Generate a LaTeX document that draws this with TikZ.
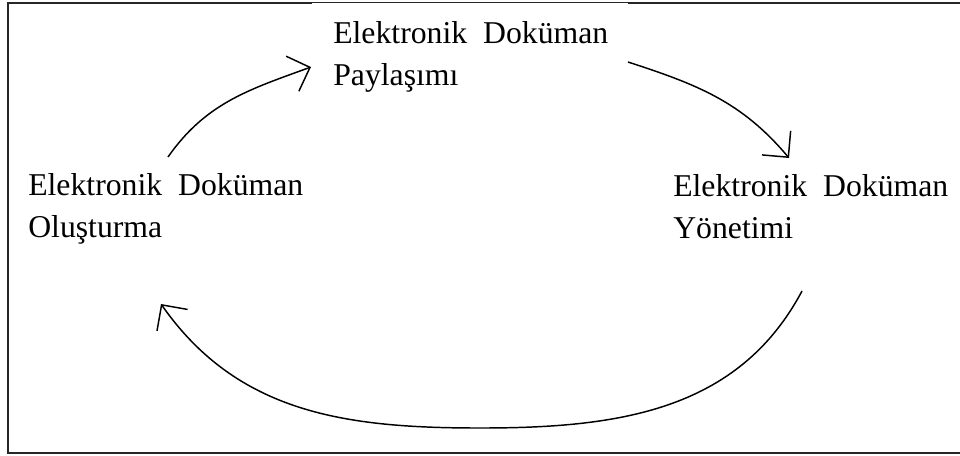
\documentclass[tikz,border=0pt]{standalone}
\usepackage{fontspec}
\setmainfont{Liberation Serif}
\usetikzlibrary{arrows.meta}
\begin{document}
\begin{tikzpicture}[x=0.75pt,y=-0.75pt,
  lbl/.style={align=left, inner sep=0pt, anchor=base west,
    font=\fontsize{23.8pt}{31.5pt}\selectfont},
  cyclearrow/.style={line width=1.1pt,
    -{Straight Barb[length=14pt,width=28pt,line width=1.1pt]}}]
\useasboundingbox (0,0) rectangle (960,455);
% outer frame (its right side lies past the page edge)
\draw[line width=1.5pt, draw=black!85] (975,2.5) -- (8,2.5) -- (8,452.7) -- (975,452.7);
% the title box of the top label covers part of the frame
\fill[white] (312,2.6) rectangle (628,14);
% the three stages (placed by the baseline of their last line)
\node[lbl] (share)  at (333,85)  {Elektronik\ \ Doküman\\Paylaşımı};
\node[lbl] (create) at (28,237)  {Elektronik\ \ Doküman\\Oluşturma};
\node[lbl] (manage) at (673,238) {Elektronik\ \ Doküman\\Yönetimi};
% end points of the arrows
\coordinate (a1s) at ([shift={(140,-80)}]create.base west);
\coordinate (a1e) at ([shift={(-22,-18)}]share.base west);
\coordinate (a2s) at ([shift={(295,-23)}]share.base west);
\coordinate (a2e) at ([shift={(116,-80)}]manage.base west);
\coordinate (a3s) at ([shift={(129,53)}]manage.base west);
\coordinate (a3m) at (480,428);
\coordinate (a3e) at ([shift={(133,67)}]create.base west);
% the cycle
\draw[cyclearrow] (a1s) to[out=55,in=200] (a1e);
\draw[cyclearrow] (a2s) to[out=-18,in=130] (a2e);
\draw[cyclearrow] (a3s) to[out=-118,in=0] (a3m) to[out=180,in=-55] (a3e);
\end{tikzpicture}
\end{document}
